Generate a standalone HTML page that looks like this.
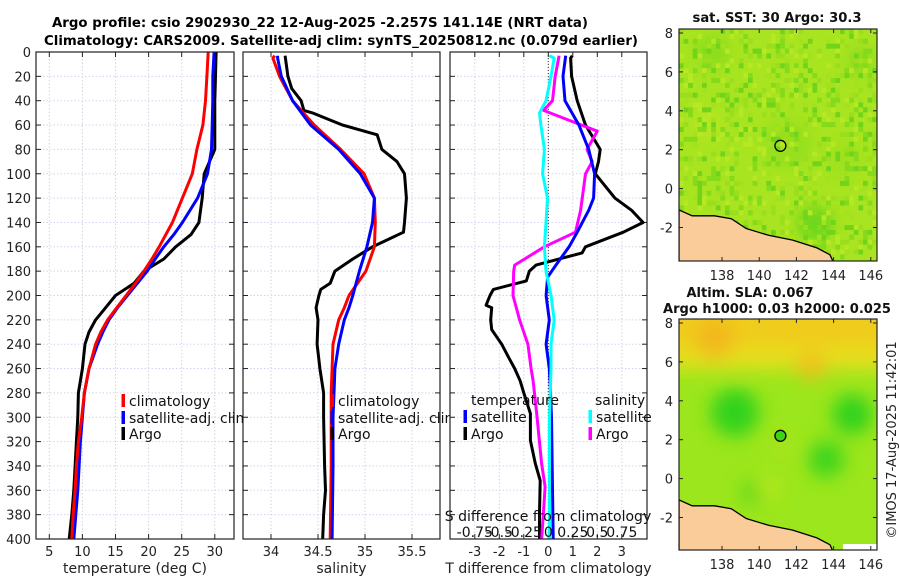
<!DOCTYPE html>
<html><head><meta charset="utf-8">
<style>
html,body{margin:0;padding:0;background:#fff;}
svg{display:block;font-family:"DejaVu Sans","Liberation Sans",sans-serif;}
</style></head>
<body>
<svg id="fig" width="900" height="580" viewBox="0 0 900 580" xmlns="http://www.w3.org/2000/svg">
<text x="320" y="27" text-anchor="middle" font-size="13.5" font-weight="bold" textLength="536" lengthAdjust="spacingAndGlyphs">Argo profile: csio 2902930_22 12-Aug-2025 -2.257S 141.14E (NRT data)</text>
<text x="341" y="45" text-anchor="middle" font-size="13.5" font-weight="bold" textLength="594" lengthAdjust="spacingAndGlyphs">Climatology: CARS2009. Satellite-adj clim: synTS_20250812.nc (0.079d earlier)</text>
<g id="plots"></g>
<g id="maps"></g>
<text transform="translate(896,440) rotate(-90)" text-anchor="middle" font-size="13" fill="#222">©IMOS 17-Aug-2025 11:42:01</text>
</svg>
<script>
// ---- data ----
const depthT = [0,20,40,60,80,100,120,140,150,160,170,180,190,200,210,220,230,240,260,280,300,320,340,360,380,400];
const tempArgo = [30.2,30.1,30.0,30.0,30.0,28.4,28.1,27.6,26.4,24.1,22.3,19.3,17.8,15.0,13.5,12.0,11.0,10.4,10.0,9.4,9.3,9.1,8.9,8.7,8.4,8.0];
const tempSat  = [29.9,29.7,29.7,29.6,29.5,28.9,27.4,25.1,23.8,22.3,21.0,19.8,18.3,16.8,15.3,14.0,13.1,12.3,11.0,10.3,10.0,9.7,9.5,9.3,9.0,8.7];
const tempClim = [29.0,28.8,28.6,28.2,27.3,26.6,25.1,23.6,22.6,21.6,20.5,19.3,18.0,16.6,15.2,13.8,12.8,12.0,11.0,10.3,9.9,9.4,9.1,8.9,8.6,8.4];

const depthSA = [3,20,30,40,48,50,60,68,80,90,100,120,140,148,160,170,180,190,195,200,210,220,240,260,280,300,340,360,380,400];
const salArgo = [34.15,34.18,34.22,34.32,34.35,34.44,34.76,35.13,35.18,35.34,35.42,35.44,35.42,35.41,35.08,34.87,34.68,34.63,34.53,34.51,34.48,34.50,34.49,34.52,34.56,34.56,34.57,34.58,34.56,34.55];
const depthS = [3,5,20,40,60,80,100,120,140,160,180,200,210,220,240,260,280,300,340,400];
const salClim = [34.04,34.02,34.09,34.23,34.46,34.74,34.99,35.10,35.11,35.10,35.01,34.83,34.78,34.72,34.66,34.65,34.64,34.64,34.64,34.63];
const salSat  = [34.07,34.07,34.11,34.23,34.42,34.72,34.95,35.10,35.08,35.02,34.94,34.87,34.83,34.78,34.72,34.68,34.67,34.66,34.66,34.65];

const depthDT = [3,5,20,40,60,80,90,100,120,130,140,148,160,165,175,180,188,195,200,208,210,220,228,240,250,260,270,280,297,319,338,352,379,400];
const dTArgo = [0.98,0.91,0.95,1.18,1.52,2.12,2.05,1.92,2.72,3.4,3.87,3.06,1.52,1.38,-0.5,-0.77,-0.9,-2.24,-2.38,-2.54,-2.31,-2.35,-2.31,-1.9,-1.64,-1.37,-1.15,-1.0,-0.73,-0.73,-0.53,-0.33,-0.36,-0.36];
const depthDTs = [3,20,40,60,80,100,120,130,148,160,175,185,200,220,240,260,270,300,400];
const dTSat = [0.71,0.6,0.68,1.25,1.65,1.89,1.85,1.65,1.18,0.85,0.31,-0.03,-0.09,0.04,-0.09,0.04,0.07,0.13,0.2];
const depthDS = [3,20,40,48,55,65,80,90,100,110,130,148,160,175,180,200,220,240,260,270,297,338,357,379,400];
const dSArgo = [0.11,0.07,0.043,-0.048,0.178,0.5,0.395,0.448,0.38,0.363,0.33,0.278,-0.04,-0.343,-0.353,-0.36,-0.293,-0.208,-0.175,-0.155,-0.118,-0.068,-0.033,-0.05,-0.068];
const depthDSs = [3,5,20,40,50,60,80,100,120,140,160,180,200,220,240,260,300,400];
const dSSat = [0.01,0.06,0.028,-0.023,-0.09,-0.075,-0.04,-0.058,-0.008,-0.023,-0.04,-0.023,0.028,0.06,0.028,0.028,0.012,0.012];

const depthTicks = [0,20,40,60,80,100,120,140,160,180,200,220,240,260,280,300,320,340,360,380,400];
const tempTicks = [5,10,15,20,25,30];
const salTicks = [34,34.5,35,35.5];
const salTickLabels = ["34","34.5","35","35.5"];
const dTTicks = [-3,-2,-1,0,1,2,3];
const dSTickLabels = ["-0.75","-0.5","-0.25","0","0.25","0.5","0.75"];
const lonTicks = [138,140,142,144,146];
const latTicks = [8,6,4,2,0,-2];
const argoLon = 141.14, argoLat = 2.2;

// ---- scales ----
const NS = "http://www.w3.org/2000/svg";
const yD = d => 52 + d * 1.2175;
const xT = v => 49.3 + (v - 5) * 6.62;
const xS = v => 271 + (v - 34) * 94;
const xD = v => 548.3 + v * 24.5;
const P = [{l:36,r:234},{l:243,r:440},{l:450,r:647}];
const TOP = 52, BOT = 539;

function mk(tag, attrs, parent){const e=document.createElementNS(NS,tag);for(const k in attrs)e.setAttribute(k,attrs[k]);parent.appendChild(e);return e;}
const G = document.getElementById('plots');

function panel(i, xf, ticks, labels, title){
  const p = P[i];
  const g = mk('g',{},G);
  
  
  mk('rect',{x:p.l,y:TOP,width:p.r-p.l,height:BOT-TOP,fill:'#fff'},g);
  depthTicks.forEach(d=>{
    const l=mk('line',{x1:p.l,x2:p.r,y1:yD(d),y2:yD(d),stroke:'#cfd6ee','stroke-width':1,'stroke-dasharray':'1.5,2'},g);
    
    
    mk('line',{x1:p.l,x2:p.l+5,y1:yD(d),y2:yD(d),stroke:'#222'},g);
    mk('line',{x1:p.r-5,x2:p.r,y1:yD(d),y2:yD(d),stroke:'#222'},g);
    if(i===0){
      const t=mk('text',{x:p.l-5,y:yD(d)+5,'text-anchor':'end','font-size':13,fill:'#222'},g);
      
      
      t.textContent=d;
    }
  });
  ticks.forEach((v,k)=>{
    const x=xf(v);
    const l=mk('line',{x1:x,x2:x,y1:TOP,y2:BOT,stroke:'#d6d2e4','stroke-width':1,'stroke-dasharray':'1.5,2'},g);
    
    
    mk('line',{x1:x,x2:x,y1:TOP,y2:TOP+5,stroke:'#222'},g);
    mk('line',{x1:x,x2:x,y1:BOT-5,y2:BOT,stroke:'#222'},g);
    const t=mk('text',{x:x,y:556,'text-anchor':'middle','font-size':13,fill:'#222'},g);
    
    
    t.textContent=labels[k];
  });
  const at=mk('text',{x:(p.l+p.r)/2,y:573,'text-anchor':'middle','font-size':14,fill:'#222'},g);
  
  
  at.textContent=title;
  return g;
}
function line(g, xf, depths, vals, color, name, scale){
  const s = scale||1;
  const pts = depths.map((d,k)=>xf(vals[k]*s).toFixed(1)+','+yD(d).toFixed(1)).join(' ');
  const pl=mk('polyline',{points:pts,fill:'none',stroke:color,'stroke-width':3,'stroke-linejoin':'round'},g);
  
  
}
function frame(i){
  const p=P[i];
  const r=mk('rect',{x:p.l,y:TOP,width:p.r-p.l,height:BOT-TOP,fill:'none',stroke:'#222','stroke-width':1.2},G);
  
  
}
function legend(g, x, y, color, label){
  const lg=mk('g',{},g);
  
  
  mk('rect',{x:x-1.5,y:y-7,width:3.5,height:13,fill:color},lg);
  const t=mk('text',{x:x+6,y:y+5,'font-size':14,fill:'#111'},lg);
  t.textContent=label;
}

// panel 1
const g1 = panel(0, xT, tempTicks, tempTicks.map(String), 'temperature (deg C)');
line(g1,xT,depthT,tempArgo,'#000','temp-argo-line');
line(g1,xT,depthT,tempSat,'#0000ff','temp-satellite-line');
line(g1,xT,depthT,tempClim,'#ff0000','temp-climatology-line');
legend(g1,123,401,'#ff0000','climatology');
legend(g1,123,418,'#0000ff','satellite-adj. clim');
legend(g1,123,434,'#000','Argo');
// panel 2
const g2 = panel(1, xS, salTicks, salTickLabels, 'salinity');
line(g2,xS,depthSA,salArgo,'#000','sal-argo-line');
line(g2,xS,depthS,salClim,'#ff0000','sal-climatology-line');
line(g2,xS,depthS,salSat,'#0000ff','sal-satellite-line');
legend(g2,332,401,'#ff0000','climatology');
legend(g2,332,418,'#0000ff','satellite-adj. clim');
legend(g2,332,434,'#000','Argo');
frame(0);
// panel 3
const g3 = panel(2, xD, dTTicks, dTTicks.map(String), 'T difference from climatology');
const zl=mk('line',{x1:xD(0),x2:xD(0),y1:TOP,y2:BOT,stroke:'#333','stroke-width':1,'stroke-dasharray':'1,2'},g3);


line(g3,xD,depthDT,dTArgo,'#000','dT-argo-line');
line(g3,xD,depthDS,dSArgo,'#ff00ff','dS-argo-line',4);
line(g3,xD,depthDTs,dTSat,'#0000ff','dT-satellite-line');
line(g3,xD,depthDSs,dSSat,'#00ffff','dS-satellite-line',4);
[['temperature',471],['salinity',595]].forEach(a=>{
  const t=mk('text',{x:a[1],y:405,'font-size':14,fill:'#111'},g3);
  
  
  t.textContent=a[0];
});
legend(g3,465,417,'#0000ff','satellite');
legend(g3,465,434,'#000','Argo');
legend(g3,590,417,'#00ffff','satellite');
legend(g3,590,434,'#ff00ff','Argo');
const st=mk('text',{x:548,y:521,'text-anchor':'middle','font-size':14,fill:'#111'},g3);


st.textContent='S difference from climatology';
dTTicks.forEach((v,k)=>{
  const t=mk('text',{x:xD(v),y:537,'text-anchor':'middle','font-size':14,fill:'#111'},g3);
  
  
  t.textContent=dSTickLabels[k];
});
frame(1);frame(2);

// ---- maps ----
const M = document.getElementById('maps');
const coast = [[135.7,-1.1],[136.4,-1.4],[137.6,-1.4],[138.5,-1.55],[139.3,-2.05],[140.5,-2.4],[141.8,-2.65],[143.1,-3.05],[143.8,-3.4],[144.0,-3.8]];
function map(id, top, bot, lat8y, titleLines, kind){
  const L=679,R=877;
  const mx = lon => 722 + (lon-138)*18.6;
  const my = lat => lat8y + (8-lat)*19.45;
  const g=mk('g',{},M);
  
  
  const defs=mk('defs',{},g);
  const cp=mk('clipPath',{id:id+'-clip'},defs);
  mk('rect',{x:L,y:top,width:R-L,height:bot-top},cp);
  const f=mk('filter',{id:id+'-blur',x:'-50%',y:'-50%',width:'200%',height:'200%'},defs);
  mk('feGaussianBlur',{stdDeviation:kind==='sst'?6:9},f);
  const c=mk('g',{'clip-path':'url(#'+id+'-clip)'},g);
  if(kind==='sst'){
    mk('rect',{x:L,y:top,width:R-L,height:bot-top,fill:'#a8e420'},c);
    const b=mk('g',{filter:'url(#'+id+'-blur)'},c);
    [[137.5,7,'#8ede1c',18],[141.5,2.3,'#96e01d',25],[143,-1.8,'#6fd81a',18],[145.5,6.5,'#8edc1c',14],[137.2,3.3,'#b4e622',16],[144.5,1.5,'#a0e21e',20]].forEach(a=>mk('circle',{cx:mx(a[0]),cy:my(a[1]),r:a[3],fill:a[2]},b));
    const cols=['#9ade1d','#b6e824','#84da1b','#a2e21f','#70d41a'];
    for(let j=0, yy=top; yy<bot; yy+=4.9, j++){
      for(let i=0, xx=L; xx<R; xx+=4.6, i++){
        const h = ((i*73856093) ^ (j*19349663)) >>> 0;
        const k = h % 13;
        if(k<5){mk('rect',{x:xx,y:yy,width:4.7,height:5,fill:cols[k]},c);}
      }
    }
  } else {
    mk('rect',{x:L,y:top,width:R-L,height:bot-top,fill:'#9be61c'},c);
    const b=mk('g',{filter:'url(#'+id+'-blur)'},c);
    mk('rect',{x:L-20,y:top-20,width:R-L+40,height:my(5.6)-top+20,fill:'#e6de1e'},b);
    mk('rect',{x:L-20,y:top-20,width:R-L+40,height:my(6.8)-top+20,fill:'#f0cc1e'},b);
    [[137.6,7.2,'#f2b81e',20],[142.8,5.8,'#f0c01e',14],[138.7,3.4,'#33d21a',24],[145,3.3,'#33d21a',20],[143.6,1.0,'#3cd41a',18],[139.7,-0.7,'#55d61a',12],[141.2,1.5,'#a6e41e',14],[140.5,-0.5,'#b6e81e',12]].forEach(a=>mk('circle',{cx:mx(a[0]),cy:my(a[1]),r:a[3],fill:a[2]},b));
    mk('rect',{x:mx(144.5),y:bot-6,width:R-mx(144.5),height:6,fill:'#fff'},c);
  }
  const pts = coast.map(p=>mx(p[0]).toFixed(1)+','+my(p[1]).toFixed(1)).join(' ')+' '+L+','+(bot+5)+' '+L+','+my(-1.1).toFixed(1);
  const land=mk('polygon',{points:pts,fill:'#f9cc9a',stroke:'#000','stroke-width':1.3},c);
  
  
  const ac=mk('circle',{cx:mx(argoLon),cy:my(argoLat),r:5.5,fill:kind==='sst'?'none':'#3cd41a',stroke:'#000','stroke-width':1.3},g);
  
  
  mk('rect',{x:L,y:top,width:R-L,height:bot-top,fill:'none',stroke:'#222','stroke-width':1.2},g);
  lonTicks.forEach(v=>{
    const x=mx(v);
    mk('line',{x1:x,x2:x,y1:bot-4,y2:bot,stroke:'#222'},g);
    mk('line',{x1:x,x2:x,y1:top,y2:top+4,stroke:'#222'},g);
    const t=mk('text',{x:x,y:bot+19,'text-anchor':'middle','font-size':13,fill:'#222'},g);
    
    
    t.textContent=v;
  });
  latTicks.forEach(v=>{
    const y=my(v);
    mk('line',{x1:L,x2:L+4,y1:y,y2:y,stroke:'#222'},g);
    mk('line',{x1:R-4,x2:R,y1:y,y2:y,stroke:'#222'},g);
    const t=mk('text',{x:L-6,y:y+5,'text-anchor':'end','font-size':13,fill:'#222'},g);
    
    
    t.textContent=v;
  });
  titleLines.forEach(tl=>{
    const t=mk('text',{x:tl[1],y:tl[2],'text-anchor':'middle','font-size':13.5,'font-weight':'bold',fill:'#111',textLength:tl[3],lengthAdjust:'spacingAndGlyphs'},g);
    
    
    t.textContent=tl[0];
  });
}
map('sst-map',29,261,33,[['sat. SST: 30 Argo: 30.3',777,22,169]],'sst');
map('sla-map',319,550,323,[['Altim. SLA: 0.067',750,297,127],['Argo h1000: 0.03 h2000: 0.025',777,313,228]],'sla');
</script>
</body></html>
